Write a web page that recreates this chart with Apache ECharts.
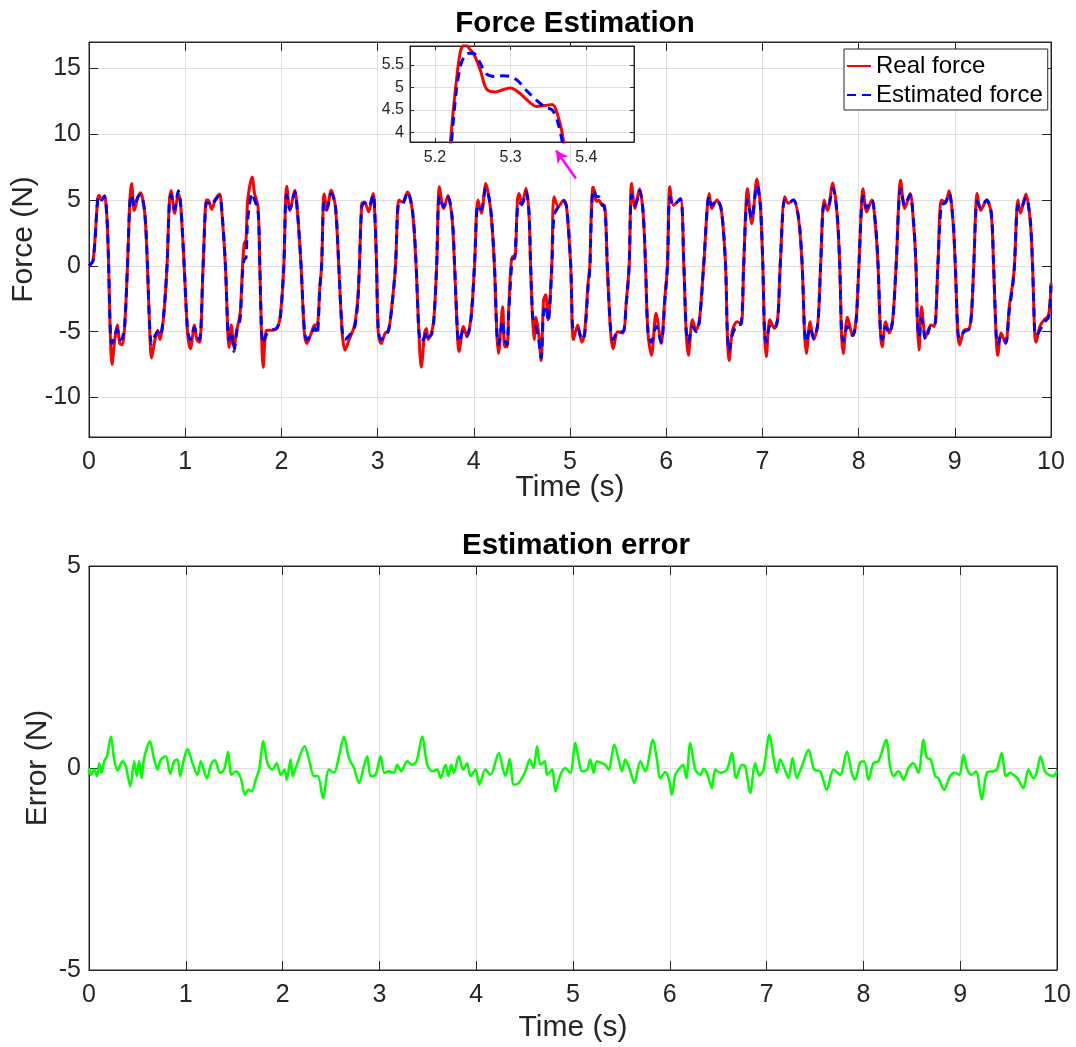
<!DOCTYPE html>
<html><head><meta charset="utf-8">
<script src="https://cdn.jsdelivr.net/npm/echarts@6/dist/echarts.min.js"></script>
<style>html,body{margin:0;padding:0;background:#fff}#c{width:1076px;height:1047px}</style>
</head><body><div id="c"></div>
<script>
// ---------- data ----------
const forceTime = [
  0, 0.043, 0.089, 0.104, 0.132, 0.16, 0.186, 0.204, 0.221, 0.239,
  0.268, 0.293, 0.321, 0.346, 0.371, 0.4, 0.425, 0.443, 0.471, 0.507,
  0.536, 0.579, 0.607, 0.632, 0.65, 0.686, 0.714, 0.739, 0.775, 0.811,
  0.836, 0.854, 0.889, 0.929, 0.954, 0.989, 1.025, 1.054, 1.096, 1.121,
  1.15, 1.186, 1.221, 1.239, 1.275, 1.311, 1.357, 1.382, 1.418, 1.443,
  1.454, 1.479, 1.507, 1.536, 1.571, 1.596, 1.614, 1.632, 1.65, 1.696,
  1.721, 1.757, 1.775, 1.793, 1.811, 1.846, 1.9, 1.954, 1.989, 2.025,
  2.043, 2.054, 2.089, 2.139, 2.168, 2.204, 2.239, 2.264, 2.311, 2.346,
  2.371, 2.4, 2.418, 2.436, 2.446, 2.471, 2.518, 2.561, 2.596, 2.632,
  2.661, 2.704, 2.757, 2.793, 2.811, 2.836, 2.864, 2.907, 2.954, 2.97, 2.989,
  3.007, 3.036, 3.079, 3.114, 3.15, 3.186, 3.221, 3.257, 3.311, 3.364,
  3.4, 3.429, 3.454, 3.489, 3.507, 3.525, 3.561, 3.586, 3.614, 3.643,
  3.686, 3.732, 3.775, 3.8, 3.829, 3.846, 3.893, 3.929, 3.971, 4.007,
  4.043, 4.079, 4.125, 4.15, 4.179, 4.214, 4.239, 4.257, 4.3, 4.321,
  4.346, 4.364, 4.4, 4.425, 4.454, 4.471, 4.5, 4.543, 4.573, 4.59,
  4.61, 4.627, 4.645, 4.674, 4.7, 4.725, 4.747, 4.772, 4.81, 4.834,
  4.88, 4.935, 4.964, 5.007, 5.036, 5.08, 5.123, 5.152, 5.188, 5.206,
  5.214, 5.221, 5.228, 5.234, 5.24, 5.246, 5.252, 5.26, 5.268, 5.28,
  5.29, 5.3, 5.31, 5.32, 5.334, 5.345, 5.355, 5.362, 5.37, 5.38,
  5.387, 5.423, 5.449, 5.496, 5.55, 5.586, 5.615, 5.64, 5.676, 5.723,
  5.76, 5.785, 5.81, 5.847, 5.894, 5.948, 5.984, 6.013, 6.038, 6.075,
  6.147, 6.183, 6.208, 6.23, 6.273, 6.31, 6.346, 6.389, 6.447, 6.473,
  6.527, 6.574, 6.617, 6.635, 6.653, 6.689, 6.737, 6.78, 6.805, 6.845,
  6.889, 6.943, 6.979, 7.004, 7.022, 7.04, 7.077, 7.124, 7.16, 7.185,
  7.232, 7.268, 7.323, 7.377, 7.413, 7.438, 7.457, 7.496, 7.533, 7.576,
  7.605, 7.641, 7.677, 7.732, 7.775, 7.804, 7.822, 7.84, 7.884, 7.938,
  7.974, 8.003, 8.047, 8.083, 8.137, 8.173, 8.202, 8.227, 8.245, 8.281,
  8.318, 8.354, 8.39, 8.437, 8.48, 8.535, 8.571, 8.596, 8.612, 8.628,
  8.654, 8.698, 8.752, 8.788, 8.824, 8.86, 8.904, 8.94, 8.98, 9.005,
  9.031, 9.049, 9.096, 9.15, 9.175, 9.197, 9.233, 9.269, 9.331, 9.378,
  9.403, 9.428, 9.446, 9.482, 9.529, 9.566, 9.602, 9.62, 9.656, 9.682,
  9.739, 9.783, 9.808, 9.83, 9.844, 9.884, 9.928, 9.975, 10.0
];
const realForce = [
  0, 0.43, 5.0, 5.37, 5.0, 5.3, 3.7, 0, -5.1, -7.5,
  -5.6, -4.5, -5.9, -6.0, -4.6, 0, 5.0, 6.25, 4.2, 5.2,
  5.55, 4.0, 0, -5.1, -7.0, -5.6, -4.9, -5.6, -3.9, 0,
  5.0, 5.7, 4.0, 5.5, 4.5, 0, -5.1, -6.3, -4.5, -5.6,
  -5.8, 0, 5.0, 5.0, 4.3, 5.0, 5.45, 4.0, 0, -5.1,
  -6.2, -4.5, -6.2, -4.9, -3.6, 0, 1.7, 1.95, 5.0, 6.75,
  5.5, 4.5, 0, -5.1, -7.7, -4.9, -4.9, -4.75, -3.75, 0,
  5.0, 6.05, 4.2, 5.75, 4.0, 0, -5.1, -5.9, -5.1, -4.5,
  -4.5, -1.6, 0, 5.0, 5.45, 4.2, 5.75, 4.5, 0, -5.1,
  -6.4, -5.6, -4.6, -2.6, 0, 4.75, 4.85, 4.1, 5.5, 4.0, 0,
  -5.1, -5.9, -5.1, -4.9, -2.9, 0, 5.0, 4.85, 5.6, 4.0,
  0, -5.1, -7.7, -5.1, -4.75, -5.6, -5.1, -3.9, 0, 6.0,
  4.35, 5.35, 3.5, 0, -5.1, -6.5, -4.6, -5.4, -3.9, 0,
  5.0, 4.0, 6.25, 5.5, 4.0, 0, -5.1, -6.65, -3.1, -6.15,
  -6.15, -3.1, 0.7, 0.55, 5.0, 5.5, 4.6, 5.9, 4.0, 0,
  -3.9, -5.6, -3.9, -5.1, -7.2, -2.6, -2.2, -4.1, 0, 5.25,
  4.5, 5.0, 4.5, 0, -5.6, -4.5, -5.8, -5.1, -1.3, 0,
  2.2, 3.9, 5.1, 5.83, 5.96, 5.85, 5.72, 5.38, 4.97, 4.9,
  4.95, 4.99, 4.9, 4.75, 4.58, 4.6, 4.62, 4.4, 3.78, 1.8,
  0, -5.1, -6.3, -5.0, -5.1, -2.6, 0, 6.25, 4.35, 5.85,
  4.0, 0, -5.1, -6.8, -3.6, -5.9, -2.6, 0, 6.0, 4.6,
  5.1, 0, -5.1, -6.8, -4.1, -4.9, -4.1, 0, 5.5, 4.35,
  5.0, 4.2, 0, -5.1, -7.2, -4.9, -4.25, -4.4, 0, 5.85,
  3.2, 6.6, 4.5, 0, -5.1, -6.9, -4.1, -4.75, -3.9, 0,
  5.25, 4.75, 5.0, 3.5, 0, -5.1, -6.65, -4.25, -5.6, -4.4,
  0, 5.0, 4.2, 6.3, 4.0, 0, -5.1, -6.65, -3.9, -5.3,
  -4.1, 0, 5.85, 4.1, 5.0, 3.2, 0, -5.1, -6.15, -4.25,
  -5.1, -4.1, 0, 6.5, 4.35, 5.5, 3.2, 0, -4.5, -6.4,
  -3.1, -5.4, -4.5, -4.6, 0, 5.0, 4.85, 5.7, 3.5, 0,
  -5.1, -6.0, -4.9, -4.75, -3.4, 0, 5.5, 4.2, 5.0, 4.0,
  0, -5.1, -6.8, -5.1, -5.9, -3.1, -1.3, 0, 5.0, 4.0,
  5.45, 3.5, 0, -5.1, -5.8, -4.6, -4.1, -3.75, -1.3
];
const estForce = [
  0, 0.4, 4.9, 5.3, 5.0, 5.3, 3.8, 0.2, -4.8, -5.9,
  -5.3, -4.8, -5.6, -5.5, -4.5, 0, 4.8, 5.4, 4.5, 5.2,
  5.4, 4.1, 0.2, -4.8, -5.9, -5.3, -5.0, -5.3, -3.8, 0,
  4.8, 5.4, 4.3, 5.7, 4.6, 0.1, -4.9, -5.6, -4.7, -5.3,
  -5.6, 0, 4.8, 4.8, 4.6, 5.0, 5.3, 4.1, 0.1, -4.9,
  -5.6, -5.0, -6.5, -5.0, -4.0, -0.5, 0.5, 0.6, 3.5, 5.5,
  5.0, 4.2, 0.3, -4.8, -5.9, -5.2, -4.9, -4.7, -3.9, 0,
  4.7, 5.4, 4.3, 5.6, 4.0, 0.1, -4.9, -5.6, -5.2, -4.7,
  -5.2, -1.6, 0, 4.6, 4.8, 4.3, 5.5, 4.6, 0.2, -4.9,
  -5.6, -5.3, -4.8, -2.8, 0, 4.5, 4.8, 4.5, 5.4, 4.1, 0.2,
  -4.9, -5.6, -5.3, -4.9, -3.0, 0, 4.7, 4.7, 5.6, 4.1,
  0.2, -4.9, -5.8, -5.4, -5.0, -5.4, -5.2, -4.0, 0, 5.3,
  4.5, 5.2, 3.7, 0.2, -4.9, -5.8, -4.9, -5.3, -4.0, 0,
  4.6, 4.3, 5.9, 5.5, 4.1, 0.2, -4.9, -6.0, -4.2, -5.6,
  -6.0, -3.5, 0.5, 0.6, 4.4, 4.8, 4.7, 5.6, 4.2, 0.3,
  -3.6, -4.5, -4.6, -5.6, -7.0, -3.5, -3.0, -4.2, -0.3, 3.8,
  4.5, 4.9, 4.5, 0.2, -4.9, -4.8, -5.6, -5.2, -1.6, -0.3,
  1.8, 3.6, 4.9, 5.5, 5.72, 5.76, 5.75, 5.53, 5.3, 5.24,
  5.26, 5.24, 5.14, 4.95, 4.72, 4.57, 4.5, 4.25, 3.6, 1.8,
  0.3, -4.9, -5.6, -5.0, -5.0, -2.8, 0, 5.4, 4.6, 5.7,
  4.1, 0.2, -4.9, -5.8, -4.6, -5.8, -2.8, 0, 5.2, 4.6,
  5.1, 0.2, -4.9, -5.8, -4.6, -5.0, -4.2, 0, 5.3, 4.6,
  5.0, 4.2, 0.1, -4.9, -6.5, -5.2, -4.5, -4.4, 0, 5.0,
  3.6, 6.1, 4.6, 0.2, -4.9, -5.8, -4.6, -4.8, -4.0, 0,
  5.0, 4.8, 5.0, 3.6, 0.2, -4.9, -5.8, -4.7, -5.5, -4.4,
  0, 4.6, 4.4, 5.9, 4.1, 0.2, -4.9, -5.7, -4.6, -5.3,
  -4.2, 0, 5.3, 4.4, 5.0, 3.4, 0.2, -4.9, -5.6, -4.6,
  -5.1, -4.2, 0, 5.9, 4.6, 5.4, 3.4, 0.2, -4.3, -5.4,
  -4.0, -5.6, -4.6, -4.6, 0, 4.6, 4.8, 5.5, 3.6, 0.2,
  -4.9, -5.5, -5.0, -4.8, -3.5, 0, 4.9, 4.4, 5.0, 4.1,
  0.2, -4.9, -6.0, -5.3, -5.8, -3.4, -1.5, 0, 4.6, 4.3,
  5.2, 3.6, 0.2, -4.9, -5.3, -4.9, -4.3, -3.9, -1.5
];
const errTime = [
  0.003, 0.02, 0.054, 0.082, 0.106, 0.13, 0.157, 0.185, 0.226, 0.26,
  0.295, 0.347, 0.38, 0.426, 0.467, 0.494, 0.518, 0.543, 0.57, 0.629,
  0.673, 0.708, 0.742, 0.794, 0.838, 0.88, 0.914, 0.942, 0.976, 1.017,
  1.069, 1.12, 1.155, 1.217, 1.265, 1.3, 1.354, 1.396, 1.437, 1.471,
  1.516, 1.568, 1.612, 1.647, 1.678, 1.722, 1.757, 1.801, 1.843, 1.894,
  1.939, 1.98, 2.021, 2.042, 2.083, 2.104, 2.135, 2.228, 2.273, 2.324,
  2.365, 2.417, 2.479, 2.531, 2.582, 2.634, 2.685, 2.737, 2.789, 2.84,
  2.874, 2.909, 2.96, 3.012, 3.053, 3.098, 3.15, 3.184, 3.225, 3.287,
  3.339, 3.384, 3.442, 3.494, 3.545, 3.597, 3.632, 3.683, 3.711, 3.742,
  3.769, 3.82, 3.865, 3.906, 3.941, 3.992, 4.033, 4.095, 4.147, 4.233,
  4.278, 4.302, 4.347, 4.388, 4.439, 4.508, 4.553, 4.594, 4.628, 4.663,
  4.708, 4.732, 4.784, 4.818, 4.869, 4.921, 4.972, 5.024, 5.058, 5.093,
  5.145, 5.179, 5.213, 5.248, 5.3, 5.334, 5.368, 5.427, 5.471, 5.506,
  5.54, 5.592, 5.633, 5.695, 5.747, 5.826, 5.867, 5.902, 5.953, 5.988,
  6.022, 6.056, 6.091, 6.136, 6.17, 6.211, 6.263, 6.315, 6.349, 6.383,
  6.435, 6.469, 6.521, 6.59, 6.641, 6.686, 6.745, 6.779, 6.831, 6.882,
  6.927, 6.968, 7.03, 7.072, 7.106, 7.14, 7.175, 7.226, 7.268, 7.312,
  7.364, 7.433, 7.491, 7.553, 7.622, 7.691, 7.76, 7.829, 7.88, 7.915,
  7.966, 8.008, 8.052, 8.104, 8.156, 8.235, 8.276, 8.31, 8.362, 8.414,
  8.465, 8.517, 8.568, 8.62, 8.655, 8.696, 8.741, 8.775, 8.834, 8.896,
  8.947, 8.992, 9.033, 9.074, 9.119, 9.164, 9.222, 9.274, 9.336, 9.377,
  9.429, 9.473, 9.515, 9.549, 9.591, 9.652, 9.704, 9.756, 9.789, 9.83,
  9.875, 9.917, 9.962, 9.997
];
const errValue = [
  0, -0.17, -0.04, -0.2, 0.12, -0.12, 0.17, 0.29, 0.78, 0.21,
  -0.06, 0.17, 0.04, -0.45, 0.17, -0.2, 0.17, -0.25, 0.25, 0.66,
  0.21, -0.04, 0.21, 0.29, -0.14, 0.17, 0.21, -0.2, 0.17, 0.47,
  0.12, -0.17, 0.17, -0.25, 0.12, 0.19, -0.12, -0.04, 0.4, -0.17,
  -0.08, -0.25, -0.66, -0.54, -0.58, -0.29, -0.04, 0.66, 0.12, -0.04,
  0.12, -0.17, -0.04, -0.29, 0.21, -0.2, 0, 0.54, 0.21, -0.2,
  -0.2, -0.74, -0.04, -0.12, 0.29, 0.78, 0.25, 0, -0.37, 0.04,
  0.29, -0.2, -0.17, 0.29, -0.12, -0.08, -0.12, 0.08, -0.08, 0.17,
  0.08, 0.17, 0.78, 0.08, -0.08, -0.04, -0.25, 0.08, -0.2, 0.08,
  -0.12, 0.29, -0.04, 0.12, -0.2, -0.04, -0.41, -0.04, -0.17, 0.37,
  -0.04, -0.2, 0.22, -0.41, -0.37, -0.08, 0.21, 0, 0.54, 0.08,
  0.17, -0.17, -0.04, -0.58, -0.17, 0, -0.12, 0.62, 0.21, -0.08,
  -0.04, 0.21, -0.12, 0.17, 0.12, 0.08, -0.04, 0.58, 0.21, -0.08,
  0.21, -0.08, -0.37, 0.17, -0.08, 0.7, 0.21, -0.25, -0.1, -0.25,
  -0.66, -0.17, -0.04, 0.08, -0.25, 0.62, -0.04, -0.17, -0.02, -0.12,
  -0.5, -0.04, -0.12, -0.04, 0.37, -0.25, 0.08, 0.04, -0.62, 0.12,
  -0.19, -0.04, 0.83, 0.25, -0.12, 0.21, 0.04, -0.25, 0.25, -0.25,
  0.04, 0.45, -0.04, -0.08, -0.54, -0.04, -0.17, 0.41, -0.12, -0.29,
  0.14, 0.17, -0.29, 0.12, 0.17, 0.7, 0.04, -0.2, -0.08, -0.29,
  0, 0.12, -0.12, 0.7, 0.25, 0.21, -0.2, -0.25, -0.54, -0.2,
  -0.12, -0.17, 0.33, -0.04, -0.17, -0.08, -0.78, -0.12, -0.08, -0.04,
  0.37, -0.2, -0.12, -0.17, -0.25, -0.5, -0.04, -0.25, -0.12, 0.29,
  -0.08, -0.17, -0.2, -0.08
];
const forceTicks = [-10, -5, 0, 5, 10, 15];
const insetTimeTicks = [5.2, 5.3, 5.4];
const insetForceTicks = [4, 4.5, 5, 5.5];
const arrowFrom = [5.062, 6.63];
const arrowTo = [4.855, 8.76];

// ---------- chart ----------
function check(a, b, n) { if (a.length !== b.length) throw new Error(n + ' length mismatch ' + a.length + ' vs ' + b.length); }
check(forceTime, realForce, 'real'); check(forceTime, estForce, 'est'); check(errTime, errValue, 'err');
const pair = (xs, ys) => xs.map((x, i) => [x, ys[i]]);

const FONT = '"Liberation Sans", Arial, Helvetica, sans-serif';
const AX = '#262626', GRID = '#dfdfdf';

function xMain(grid, min, max, opt) {
  return Object.assign({
    gridIndex: grid, type: 'value', min: min, max: max, interval: 1, nameMoveOverlap: false,
    axisLine: { show: true, onZero: false, lineStyle: { color: AX, width: 1 } },
    axisTick: { show: true, inside: true, length: 9, lineStyle: { color: AX } },
    axisLabel: { show: true, fontSize: 25, color: AX, fontFamily: FONT, margin: 13 },
    splitLine: { show: true, lineStyle: { color: GRID, width: 1 } }
  }, opt || {});
}
function xTop(grid, min, max) {
  return {
    gridIndex: grid, type: 'value', position: 'top', min: min, max: max, interval: 1,
    axisLine: { show: true, onZero: false, lineStyle: { color: AX, width: 1 } },
    axisTick: { show: true, inside: true, length: 9, lineStyle: { color: AX } },
    axisLabel: { show: false }, splitLine: { show: false }
  };
}

const option = {
  animation: false,
  backgroundColor: '#ffffff',
  textStyle: { fontFamily: FONT },
  title: [
    { text: 'Force Estimation', left: 570, top: 4, textAlign: 'center',
      textStyle: { fontSize: 29.5, fontWeight: 'bold', color: '#000', fontFamily: FONT } },
    { text: 'Estimation error', left: 571, top: 526, textAlign: 'center',
      textStyle: { fontSize: 29.5, fontWeight: 'bold', color: '#000', fontFamily: FONT } }
  ],
  legend: {
    data: ['Real force', 'Estimated force'],
    orient: 'vertical', left: 844, top: 49,
    backgroundColor: '#ffffff', borderColor: AX, borderWidth: 1,
    padding: [5, 5, 3, 2], itemGap: 5, itemWidth: 24, itemHeight: 14,
    itemStyle: { opacity: 0 },
    textStyle: { fontSize: 24, color: '#000', fontFamily: FONT },
    z: 20
  },
  grid: [
    { left: 89, top: 42, width: 962, height: 395, show: true, borderColor: AX, borderWidth: 1,
      backgroundColor: 'transparent', outerBoundsMode: 'none', containLabel: false },
    { left: 89, top: 566, width: 968, height: 404, show: true, borderColor: AX, borderWidth: 1,
      backgroundColor: 'transparent', outerBoundsMode: 'none', containLabel: false },
    { left: 410, top: 46, width: 224, height: 96, show: true, borderColor: AX, borderWidth: 1,
      backgroundColor: '#ffffff', z: 10, outerBoundsMode: 'none', containLabel: false }
  ],
  xAxis: [
    xMain(0, 0, 10, { name: 'Time (s)', nameLocation: 'middle', nameGap: 36,
      nameTextStyle: { fontSize: 30, color: AX, fontFamily: FONT } }),
    xTop(0, 0, 10),
    xMain(1, 0, 10, { name: 'Time (s)', nameLocation: 'middle', nameGap: 43,
      nameTextStyle: { fontSize: 30, color: AX, fontFamily: FONT } }),
    xTop(1, 0, 10),
    { gridIndex: 2, type: 'value', min: 5.167, max: 5.463, z: 11,
      axisLine: { show: true, onZero: false, lineStyle: { color: AX } },
      axisTick: { show: true, inside: true, length: 4, customValues: insetTimeTicks, lineStyle: { color: AX } },
      axisLabel: { show: true, customValues: insetTimeTicks, fontSize: 16, color: AX, fontFamily: FONT, margin: 8,
        formatter: v => v.toFixed(1) },
      splitLine: { show: true, lineStyle: { color: GRID } } },
    { gridIndex: 2, type: 'value', position: 'top', min: 5.167, max: 5.463, z: 11,
      axisLine: { show: true, onZero: false, lineStyle: { color: AX } },
      axisTick: { show: true, inside: true, length: 4, customValues: insetTimeTicks, lineStyle: { color: AX } },
      axisLabel: { show: false }, splitLine: { show: false } }
  ],
  yAxis: [
    { gridIndex: 0, type: 'value', min: -13, max: 17,
      name: 'Force (N)', nameLocation: 'middle', nameGap: 50, nameMoveOverlap: false,
      nameTextStyle: { fontSize: 30, color: AX, fontFamily: FONT },
      axisLine: { show: true, onZero: false, lineStyle: { color: AX } },
      axisTick: { show: true, inside: true, length: 9, customValues: forceTicks, lineStyle: { color: AX } },
      axisLabel: { show: true, customValues: forceTicks, fontSize: 25, color: AX, fontFamily: FONT, margin: 8 },
      splitLine: { show: true, lineStyle: { color: GRID } } },
    { gridIndex: 0, type: 'value', position: 'right', min: -13, max: 17,
      axisLine: { show: true, onZero: false, lineStyle: { color: AX } },
      axisTick: { show: true, inside: true, length: 9, customValues: forceTicks, lineStyle: { color: AX } },
      axisLabel: { show: false }, splitLine: { show: false } },
    { gridIndex: 1, type: 'value', min: -5, max: 5, interval: 5,
      name: 'Error (N)', nameLocation: 'middle', nameGap: 36, nameMoveOverlap: false,
      nameTextStyle: { fontSize: 30, color: AX, fontFamily: FONT },
      axisLine: { show: true, onZero: false, lineStyle: { color: AX } },
      axisTick: { show: true, inside: true, length: 9, lineStyle: { color: AX } },
      axisLabel: { show: true, fontSize: 25, color: AX, fontFamily: FONT, margin: 8 },
      splitLine: { show: true, lineStyle: { color: GRID } } },
    { gridIndex: 1, type: 'value', position: 'right', min: -5, max: 5, interval: 5,
      axisLine: { show: true, onZero: false, lineStyle: { color: AX } },
      axisTick: { show: true, inside: true, length: 9, lineStyle: { color: AX } },
      axisLabel: { show: false }, splitLine: { show: false } },
    { gridIndex: 2, type: 'value', min: 3.79, max: 5.92, z: 11,
      axisLine: { show: true, onZero: false, lineStyle: { color: AX } },
      axisTick: { show: true, inside: true, length: 4, customValues: insetForceTicks, lineStyle: { color: AX } },
      axisLabel: { show: true, customValues: insetForceTicks, fontSize: 16, color: AX, fontFamily: FONT, margin: 6 },
      splitLine: { show: true, lineStyle: { color: GRID } } },
    { gridIndex: 2, type: 'value', position: 'right', min: 3.79, max: 5.92, z: 11,
      axisLine: { show: true, onZero: false, lineStyle: { color: AX } },
      axisTick: { show: true, inside: true, length: 4, customValues: insetForceTicks, lineStyle: { color: AX } },
      axisLabel: { show: false }, splitLine: { show: false } }
  ],
  series: [
    { name: 'Real force', type: 'line', xAxisIndex: 0, yAxisIndex: 0,
      data: pair(forceTime, realForce), symbol: 'none', smooth: 0.3, color: '#ff0000',
      lineStyle: { color: '#ff0000', width: 3 }, z: 2 },
    { name: 'Estimated force', type: 'line', xAxisIndex: 0, yAxisIndex: 0,
      data: pair(forceTime, estForce), symbol: 'none', smooth: 0.3, color: '#0000ff',
      lineStyle: { color: '#0000ff', width: 3, type: [9, 6] }, z: 3,
      markLine: { silent: true, animation: false, symbol: ['none', 'arrow'], symbolSize: [10, 12],
        label: { show: false },
        lineStyle: { color: '#ff00ff', width: 2.5, type: 'solid' },
        data: [[{ coord: arrowFrom }, { coord: arrowTo }]] } },
    { name: 'Real force', type: 'line', xAxisIndex: 4, yAxisIndex: 4,
      data: pair(forceTime, realForce), symbol: 'none', smooth: 0.3, color: '#ff0000',
      lineStyle: { color: '#ff0000', width: 3 }, z: 12 },
    { name: 'Estimated force', type: 'line', xAxisIndex: 4, yAxisIndex: 4,
      data: pair(forceTime, estForce), symbol: 'none', smooth: 0.3, color: '#0000ff',
      lineStyle: { color: '#0000ff', width: 3, type: [9, 6] }, z: 13 },
    { name: 'Error', type: 'line', xAxisIndex: 2, yAxisIndex: 2,
      data: pair(errTime, errValue), symbol: 'none', smooth: 0.3, color: '#00ff00',
      lineStyle: { color: '#00ff00', width: 2.5 }, z: 2 }
  ]
};
const chart = echarts.init(document.getElementById('c'), null, { renderer: 'canvas' });
chart.setOption(option);
</script></body></html>
